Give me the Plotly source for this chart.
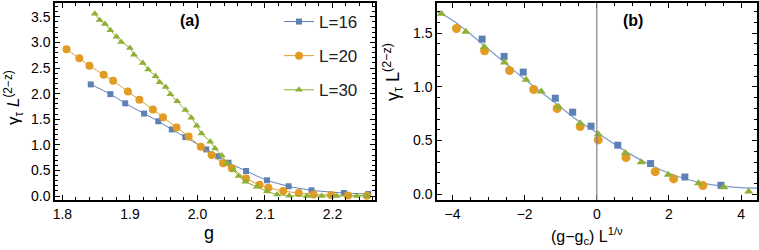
import plotly.graph_objects as go

# ---------------- Panel (a) data ----------------
a16_g = [1.842, 1.871, 1.893, 1.921, 1.942, 1.962, 1.982, 2.013, 2.031, 2.046,
         2.072, 2.103, 2.135, 2.169, 2.217, 2.253]
a16_y = [2.18, 1.99, 1.81, 1.61, 1.46, 1.30, 1.15, 0.91, 0.775, 0.65,
         0.488, 0.307, 0.19, 0.111, 0.059, 0.039]

a20_g = [1.806, 1.825, 1.840, 1.861, 1.875, 1.897, 1.914, 1.934, 1.949, 1.969,
         1.987, 2.005, 2.021, 2.038, 2.051, 2.072, 2.092, 2.105, 2.127, 2.150,
         2.172, 2.198, 2.223, 2.251]
a20_y = [2.865, 2.69, 2.545, 2.37, 2.25, 2.04, 1.88, 1.69, 1.537, 1.34,
         1.16, 0.963, 0.80, 0.64, 0.54, 0.34, 0.22, 0.162, 0.098, 0.059,
         0.03, 0.02, 0.01, 0.005]

a30_g = [1.848, 1.855, 1.863, 1.871, 1.880, 1.887, 1.900, 1.906, 1.919, 1.927,
         1.938, 1.944, 1.953, 1.960, 1.970, 1.982, 1.991, 1.999, 2.006, 2.019,
         2.026, 2.036, 2.044, 2.053, 2.061, 2.071, 2.088, 2.103, 2.118, 2.136,
         2.162, 2.184, 2.206, 2.236, 2.251]
a30_y = [3.56, 3.44, 3.36, 3.24, 3.11, 3.01, 2.89, 2.76, 2.60, 2.47,
         2.34, 2.22, 2.13, 1.99, 1.85, 1.68, 1.53, 1.37, 1.22, 1.06,
         0.93, 0.79, 0.64, 0.51, 0.39, 0.28, 0.18, 0.09, 0.03, 0.005,
         0.0, 0.0, 0.0, 0.0, 0.0]

# ---------------- Panel (b) data ----------------
b16_x = [-3.18, -2.57, -2.04, -1.15, -0.67, -0.16, 0.58, 1.49, 2.44, 3.44]
b16_y = [1.444, 1.283, 1.137, 0.894, 0.764, 0.634, 0.457, 0.286, 0.161, 0.084]

b20_x = [-3.89, -3.11, -2.42, -1.75, -1.10, -0.46, 0.04, 0.81, 1.62, 2.13, 2.94]
b20_y = [1.543, 1.335, 1.152, 0.975, 0.798, 0.630, 0.506, 0.342, 0.211, 0.143, 0.081]

b30_x = [-4.31, -3.63, -3.12, -2.56, -1.96, -1.54, -1.06, -0.46, 0.04, 0.79,
         1.23, 1.98, 2.82, 3.52, 4.21]
b30_y = [1.68, 1.512, 1.37, 1.227, 1.065, 0.957, 0.814, 0.661, 0.559, 0.385,
         0.298, 0.183, 0.102, 0.065, 0.025]

fit_x = [-4.43, -4.0, -3.5, -3.0, -2.5, -2.0, -1.5, -1.0, -0.5, 0.0,
         0.5, 1.0, 1.5, 2.0, 2.5, 3.0, 3.5, 4.0, 4.44]
fit_y = [1.70, 1.62, 1.49, 1.35, 1.21, 1.07, 0.94, 0.81, 0.68, 0.575,
         0.465, 0.36, 0.27, 0.196, 0.14, 0.10, 0.077, 0.062, 0.058]

labels = ["L=16", "L=20", "L=30"]
colors = ["#5E81B5", "#E19C24", "#8FB032"]
symbols = ["square", "circle", "triangle-up"]

FONT = "Liberation Sans, Arial, sans-serif"

fig = go.Figure()

a_sets = [(a16_g, a16_y, 6), (a20_g, a20_y, 8), (a30_g, a30_y, 7)]
for i, (gx, gy, ms) in enumerate(a_sets):
    fig.add_trace(go.Scatter(
        x=gx, y=gy, mode="lines+markers", name=labels[i],
        legendgroup=labels[i],
        line=dict(color=colors[i], width=1, shape="spline", smoothing=0.6),
        marker=dict(symbol=symbols[i], size=ms, color=colors[i]),
        xaxis="x", yaxis="y"))

fig.add_trace(go.Scatter(
    x=fit_x, y=fit_y, mode="lines", showlegend=False,
    line=dict(color="#7A9BCB", width=1.2, shape="spline"),
    xaxis="x2", yaxis="y2"))

b_sets = [(b16_x, b16_y, 7), (b20_x, b20_y, 9), (b30_x, b30_y, 8)]
for i, (bx, by, ms) in enumerate(b_sets):
    fig.add_trace(go.Scatter(
        x=bx, y=by, mode="markers", showlegend=False,
        marker=dict(symbol=symbols[i], size=ms, color=colors[i]),
        xaxis="x2", yaxis="y2"))

W, H = 759, 250
axis_common = dict(showline=True, linecolor="black", linewidth=1.5,
                   mirror="ticks", ticks="inside", ticklen=5, tickwidth=1.2,
                   tickcolor="black", showgrid=False, zeroline=False,
                   tickfont=dict(family=FONT, size=14, color="black"),
                   automargin=False)


def ann(text, x, y, size, angle=0):
    return dict(text=text, xref="paper", yref="paper", x=x / W, y=1 - y / H,
                xanchor="center", yanchor="middle", textangle=angle,
                showarrow=False, font=dict(family=FONT, size=size, color="black"))


fig.update_layout(
    width=W, height=H,
    margin=dict(l=0, r=0, t=0, b=0),
    paper_bgcolor="white", plot_bgcolor="white",
    font=dict(family=FONT, color="black"),
    xaxis=dict(domain=[55 / W, 375 / W], range=[1.789, 2.263], anchor="y",
               tick0=1.8, dtick=0.1, tickformat=".1f",
               minor=dict(dtick=0.02, ticks="inside", ticklen=3, tickcolor="black"),
               **axis_common),
    yaxis=dict(domain=[50 / H, 247 / H], range=[-0.078, 3.77], anchor="x",
               tick0=0, dtick=0.5, tickformat=".1f",
               minor=dict(dtick=0.1, ticks="inside", ticklen=3, tickcolor="black"),
               **axis_common),
    xaxis2=dict(domain=[437 / W, 757 / W], range=[-4.43, 4.44], anchor="y2",
                tick0=0, dtick=2, tickformat="d",
                minor=dict(dtick=0.5, ticks="inside", ticklen=3, tickcolor="black"),
                **axis_common),
    yaxis2=dict(domain=[50 / H, 247 / H], range=[-0.053, 1.78], anchor="x2",
                tick0=0, dtick=0.5, tickformat=".1f",
                minor=dict(dtick=0.1, ticks="inside", ticklen=3, tickcolor="black"),
                **axis_common),
    legend=dict(x=279 / W, y=1 - 4 / H, xanchor="left", yanchor="top",
                bgcolor="rgba(0,0,0,0)", tracegroupgap=9,
                font=dict(family=FONT, size=17, color="#222"),
                itemwidth=30),
    shapes=[dict(type="line", xref="x2", yref="y2 domain", x0=0, x1=0, y0=0, y1=1,
                 line=dict(color="#808080", width=1.2))],
    annotations=[
        ann("<b>(a)</b>", 190, 21, 16),
        ann("<b>(b)</b>", 633, 21, 16),
        ann("g", 209, 233, 18),
        ann("(g\u2212g<sub>c</sub>) L<sup>1/\u03bd</sup>", 587, 236, 16),
        ann("\u03b3<sub>\u03c4</sub> <i>L</i><sup>(2\u2212z)</sup>", 13, 98, 17, -90),
        ann("\u03b3<sub>\u03c4</sub> L<sup>(2\u2212z)</sup>", 392, 72, 18, -90),
    ],
)

fig.write_html("out.html",
               config={"displayModeBar": False},
               post_script="document.body.style.margin='0';document.body.style.padding='0';")
